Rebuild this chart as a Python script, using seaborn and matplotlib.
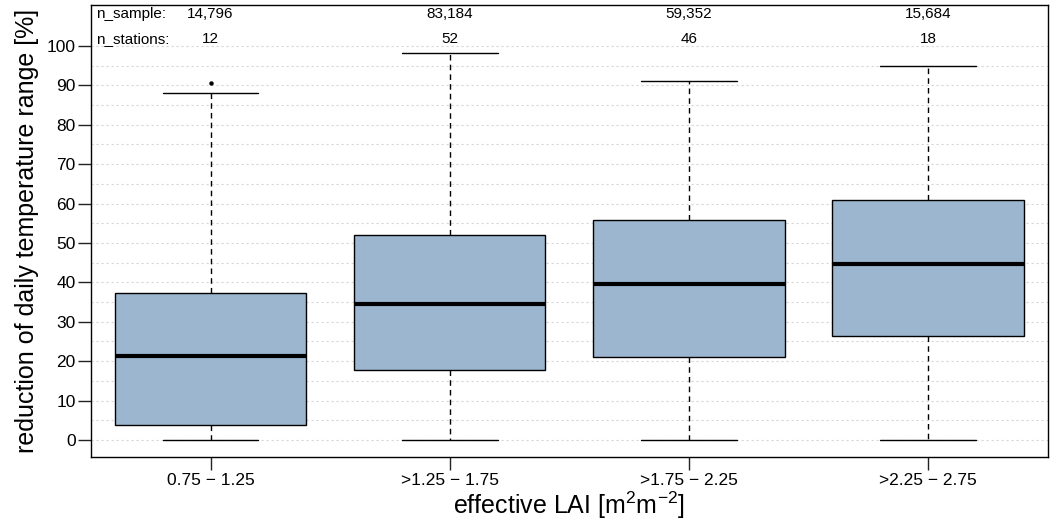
import matplotlib
matplotlib.use("Agg")
import matplotlib.pyplot as plt
import numpy as np
import pandas as pd
import seaborn as sns
from matplotlib.ticker import FixedLocator

# LAI classes and box statistics
lai_classes = ["0.75 \u2212 1.25", ">1.25 \u2212 1.75", ">1.75 \u2212 2.25", ">2.25 \u2212 2.75"]
whisker_low = [0.0, 0.0, 0.0, 0.0]
q1 = [3.7, 17.7, 21.1, 26.3]
median = [21.2, 34.5, 39.5, 44.6]
q3 = [37.2, 52.1, 55.8, 60.9]
whisker_high = [88.0, 98.1, 91.0, 95.0]
outliers = [[90.7], [], [], []]
n_sample = [14796, 83184, 59352, 15684]
n_stations = [12, 52, 46, 18]
y_ticks = list(range(0, 101, 10))

BOX_COLOR = "#9cb6cf"

# seaborn needs raw values, so build a minimal sample per class whose
# quartiles / whiskers / fliers reproduce the statistics above (9 points each)
rows = []
for i, cls in enumerate(lai_classes):
    extra = outliers[i] if outliers[i] else [whisker_high[i]]
    vals = [whisker_low[i], q1[i], q1[i], median[i], median[i], median[i],
            q3[i], whisker_high[i]] + extra
    rows += [{"lai": cls, "value": v} for v in vals]
df = pd.DataFrame(rows)

sns.set_style("ticks")
plt.rcParams["font.family"] = ["Liberation Sans", "DejaVu Sans"]
plt.rcParams["mathtext.fontset"] = "custom"
plt.rcParams["mathtext.rm"] = "Liberation Sans"
plt.rcParams["mathtext.it"] = "Liberation Sans:italic"
for key in ["text.color", "axes.labelcolor", "xtick.color", "ytick.color"]:
    plt.rcParams[key] = "black"

fig, ax = plt.subplots(figsize=(10.54, 5.29), dpi=100)
fig.subplots_adjust(left=0.0863, right=0.994, bottom=0.1355, top=0.9905)

sns.boxplot(
    data=df, x="lai", y="value", order=lai_classes, ax=ax,
    color=BOX_COLOR, saturation=1, width=0.8, whis=1.55,
    linecolor="black", linewidth=1.0, fliersize=2.2,
    whiskerprops={"linestyle": (0, (4, 3))},
    medianprops={"linewidth": 3.0},
    flierprops={"marker": "o", "markerfacecolor": "black"},
)

ax.set_xlim(-0.5, 3.5)
ax.set_ylim(-4.4, 110.4)
ax.yaxis.set_major_locator(FixedLocator(y_ticks))
ax.yaxis.set_minor_locator(FixedLocator([t + 5 for t in y_ticks[:-1]]))
ax.grid(axis="y", which="both", color="#d6d6d6", linestyle=(0, (2, 2.5)), linewidth=0.8)
ax.set_axisbelow(True)

for side in ["top", "right", "left", "bottom"]:
    ax.spines[side].set_visible(True)
    ax.spines[side].set_color("black")
    ax.spines[side].set_linewidth(1.0)

ax.tick_params(axis="both", which="major", direction="out", length=9.5, width=1.0,
               color="#222222", labelsize=12.5, pad=1.5)
ax.tick_params(axis="y", which="minor", length=0)

ax.set_xlabel("effective LAI [m$^{2}$m$^{-2}$]", fontsize=18)
ax.set_ylabel("reduction of daily temperature range [%]", fontsize=18)
ax.xaxis.set_label_coords(0.5, -0.072)
ax.yaxis.set_label_coords(-0.054, 0.5)

ax.text(-0.479, 108.0, "n_sample:", ha="left", va="center", fontsize=11)
ax.text(-0.479, 101.8, "n_stations:", ha="left", va="center", fontsize=11)
for i in range(len(lai_classes)):
    ax.text(i, 108.0, f"{n_sample[i]:,}", ha="center", va="center", fontsize=11)
    ax.text(i, 101.8, f"{n_stations[i]}", ha="center", va="center", fontsize=11)

fig.savefig("out.png", dpi=100)
plt.close(fig)
